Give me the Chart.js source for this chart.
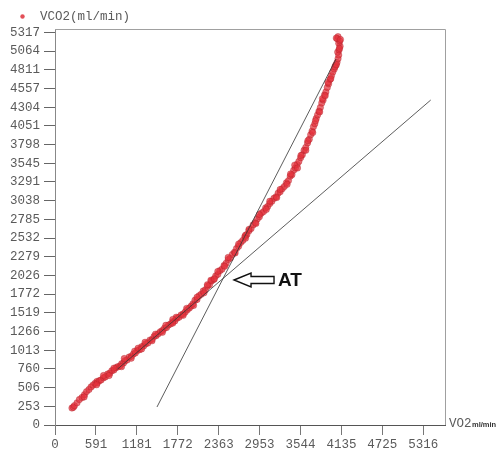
<!DOCTYPE html>
<html>
<head>
<meta charset="utf-8">
<script src="https://cdn.jsdelivr.net/npm/chart.js@4"></script>
<style>
  html, body { margin: 0; padding: 0; background: #fff; }
  #wrap { width: 498px; height: 452px; }
</style>
</head>
<body>
<div id="wrap"><canvas id="atChart"></canvas></div>
<script>
// VO2 / VCO2 (ml/min)
const vo2 = [
  245, 265, 280, 318, 352, 390, 425, 455, 490, 520, 548, 577, 605,
  610, 640, 665, 700, 725, 760, 790, 820, 850, 880, 905, 940, 962, 990,
  1010, 1040, 1070, 1100, 1130, 1160, 1190, 1220, 1250, 1280, 1310, 1340, 1370, 1400, 1430, 1460, 1490, 1520,
  1550, 1580, 1610, 1640, 1670, 1700, 1730, 1760, 1790, 1820, 1850, 1880, 1910, 1940, 1965,
  1990, 2020, 2050, 2080, 2110, 2140, 2170, 2200, 2230, 2260, 2290, 2320, 2350, 2380, 2410, 2440,
  2470, 2500, 2530, 2560, 2590, 2620, 2650, 2680, 2710, 2740, 2770, 2800, 2830, 2860, 2890, 2920,
  2950, 2980, 3010, 3040, 3070, 3100, 3130, 3160, 3190, 3220, 3250, 3280, 3310, 3340,
  3370, 3395, 3420, 3445, 3470, 3495, 3520, 3545, 3570, 3595, 3620, 3645, 3670, 3690,
  3710, 3730, 3750, 3770, 3790, 3810, 3830, 3850, 3870, 3890, 3910, 3930, 3950, 3970,
  3990, 4010, 4030, 4050, 4070, 4085, 4095, 4080, 4100, 4115, 4095, 4110, 4075, 4085, 4060,
  700, 850, 1000, 1150, 1300, 1450, 1600, 1750, 1900, 2050, 2200, 2350, 2500, 2650, 2800,
  2950, 3100, 3250, 3400, 3550, 3650, 3760, 3860, 3940, 4040, 1200, 1700, 2250, 2750, 3460,
  420, 600, 780, 960, 1100, 1250, 1400, 1550, 1700, 1850, 2000, 2150, 2300, 2450, 2600,
  2750, 2900, 3050, 3200, 3350, 3500, 3620, 3720, 3820, 3900, 3980, 4060, 4105, 4120
];
const vco2 = [
  230, 240, 262, 300, 345, 372, 410, 452, 480, 515, 540, 564, 590,
  570, 600, 610, 640, 650, 690, 700, 735, 745, 775, 790, 800, 830, 840,
  870, 880, 920, 930, 960, 975, 1010, 1020, 1060, 1070, 1100, 1110, 1150, 1160, 1200, 1210, 1235, 1262,
  1280, 1310, 1320, 1355, 1370, 1400, 1410, 1445, 1460, 1490, 1505, 1530, 1560, 1585, 1610,
  1640, 1690, 1700, 1750, 1770, 1815, 1830, 1880, 1900, 1950, 1970, 2020, 2040, 2090, 2110, 2160,
  2190, 2240, 2260, 2310, 2340, 2390, 2420, 2470, 2500, 2550, 2580, 2630, 2660, 2710, 2740, 2790,
  2820, 2870, 2890, 2940, 2960, 3000, 3030, 3070, 3090, 3140, 3160, 3200, 3230, 3280,
  3310, 3370, 3390, 3450, 3480, 3530, 3570, 3620, 3660, 3720, 3760, 3820, 3870, 3930,
  3980, 4040, 4080, 4150, 4200, 4250, 4300, 4360, 4400, 4470, 4510, 4570, 4620, 4680,
  4730, 4780, 4820, 4870, 4910, 4960, 5010, 5050, 5080, 5130, 5170, 5200, 5230, 5260, 5240,
  670, 770, 900, 1000, 1120, 1230, 1350, 1460, 1580, 1730, 1900, 2080, 2270, 2450, 2650,
  2850, 3030, 3190, 3400, 3650, 3850, 4120, 4420, 4640, 4850, 1040, 1430, 1960, 2570, 3520,
  380, 545, 670, 790, 905, 1030, 1140, 1255, 1380, 1485, 1620, 1790, 1980, 2150, 2330,
  2530, 2730, 2920, 3080, 3260, 3480, 3720, 3960, 4240, 4460, 4690, 4880, 5100, 5220
];

// tangent lines
const steepLineX = [1472, 4056];
const steepLineY = [244, 4957];
const shallowLineX = [900, 5423];
const shallowLineY = [755, 4401];

// anaerobic threshold
const atVo2 = 2584;
const atVco2 = 1964;

const xTicks = [0, 591, 1181, 1772, 2363, 2953, 3544, 4135, 4725, 5316];
const yTicks = [0, 253, 506, 760, 1013, 1266, 1519, 1772, 2026, 2279, 2532, 2785,
  3038, 3291, 3545, 3798, 4051, 4304, 4557, 4811, 5064, 5317];

const mono = "'Liberation Mono', 'DejaVu Sans Mono', monospace";

const toXY = (xs, ys) => xs.map((x, i) => ({ x: x, y: ys[i] }));

const extras = {
  id: 'extras',
  afterDraw(chart) {
    const ctx = chart.ctx;
    const a = chart.chartArea;
    const sx = chart.scales.x, sy = chart.scales.y;
    ctx.save();

    // top and right frame
    ctx.strokeStyle = '#a0a0a0';
    ctx.lineWidth = 1;
    ctx.beginPath();
    ctx.moveTo(a.left, a.top + 0.5);
    ctx.lineTo(a.right + 0.5, a.top + 0.5);
    ctx.lineTo(a.right + 0.5, a.bottom);
    ctx.stroke();

    // legend
    ctx.fillStyle = 'rgba(222, 48, 58, 0.85)';
    ctx.beginPath();
    ctx.arc(22.5, 16.5, 2.2, 0, Math.PI * 2);
    ctx.fill();
    ctx.fillStyle = '#5a5a5a';
    ctx.font = '12.5px ' + mono;
    ctx.textBaseline = 'middle';
    ctx.textAlign = 'left';
    ctx.fillText('VCO2(ml/min)', 40, 17);

    // x axis title
    ctx.fillText('VO2', a.right + 4, a.bottom - 1);
    ctx.font = 'bold 7.5px "Liberation Sans", Arial, sans-serif';
    ctx.fillStyle = '#333';
    ctx.fillText('ml/min', a.right + 27, a.bottom);

    // AT arrow
    const tx = sx.getPixelForValue(atVo2);
    const ty = sy.getPixelForValue(atVco2);
    ctx.beginPath();
    ctx.moveTo(tx, ty);
    ctx.lineTo(tx + 17, ty - 7);
    ctx.lineTo(tx + 17, ty - 3.5);
    ctx.lineTo(tx + 40, ty - 3.5);
    ctx.lineTo(tx + 40, ty + 3.5);
    ctx.lineTo(tx + 17, ty + 3.5);
    ctx.lineTo(tx + 17, ty + 7);
    ctx.closePath();
    ctx.fillStyle = '#fff';
    ctx.fill();
    ctx.strokeStyle = '#111';
    ctx.lineWidth = 1.4;
    ctx.stroke();
    ctx.fillStyle = '#111';
    ctx.font = 'bold 19px "Liberation Sans", Arial, sans-serif';
    ctx.textBaseline = 'middle';
    ctx.fillText('AT', tx + 44, ty + 1);

    ctx.restore();
  }
};

new Chart(document.getElementById('atChart'), {
  type: 'scatter',
  data: {
    datasets: [
      {
        label: 'steep',
        data: toXY(steepLineX, steepLineY),
        showLine: true,
        borderColor: '#333',
        borderWidth: 0.8,
        pointRadius: 0
      },
      {
        label: 'shallow',
        data: toXY(shallowLineX, shallowLineY),
        showLine: true,
        borderColor: '#333',
        borderWidth: 0.8,
        pointRadius: 0
      },
      {
        label: 'VCO2(ml/min)',
        data: toXY(vo2, vco2),
        backgroundColor: 'rgba(228, 50, 60, 0.7)',
        borderColor: 'rgba(170, 30, 40, 0.45)',
        borderWidth: 0.8,
        pointRadius: 3.2
      }
    ]
  },
  options: {
    responsive: true,
    maintainAspectRatio: false,
    animation: false,
    layout: { padding: { top: 29, right: 53, left: 0, bottom: 0 } },
    scales: {
      x: {
        type: 'linear',
        min: 0,
        max: 5629,
        afterFit: (s) => { s.height = 27; },
        afterBuildTicks: (s) => { s.ticks = xTicks.map(v => ({ value: v })); },
        ticks: {
          color: '#5a5a5a',
          font: { family: mono, size: 12.5 },
          padding: 2,
          maxRotation: 0,
          autoSkip: false,
          callback: (v) => String(v)
        },
        grid: { drawOnChartArea: false, drawTicks: true, tickLength: 10, color: '#777' },
        border: { color: '#555', width: 1 }
      },
      y: {
        type: 'linear',
        min: 0,
        max: 5363,
        afterFit: (s) => { s.width = 55; },
        afterBuildTicks: (s) => { s.ticks = yTicks.map(v => ({ value: v })); },
        ticks: {
          color: '#5a5a5a',
          font: { family: mono, size: 12.5 },
          padding: 4,
          autoSkip: false,
          callback: (v) => String(v)
        },
        grid: { drawOnChartArea: false, drawTicks: true, tickLength: 11, color: '#666' },
        border: { color: '#888', width: 1 }
      }
    },
    plugins: {
      legend: { display: false },
      tooltip: { enabled: false }
    }
  },
  plugins: [extras]
});
</script>
</body>
</html>
